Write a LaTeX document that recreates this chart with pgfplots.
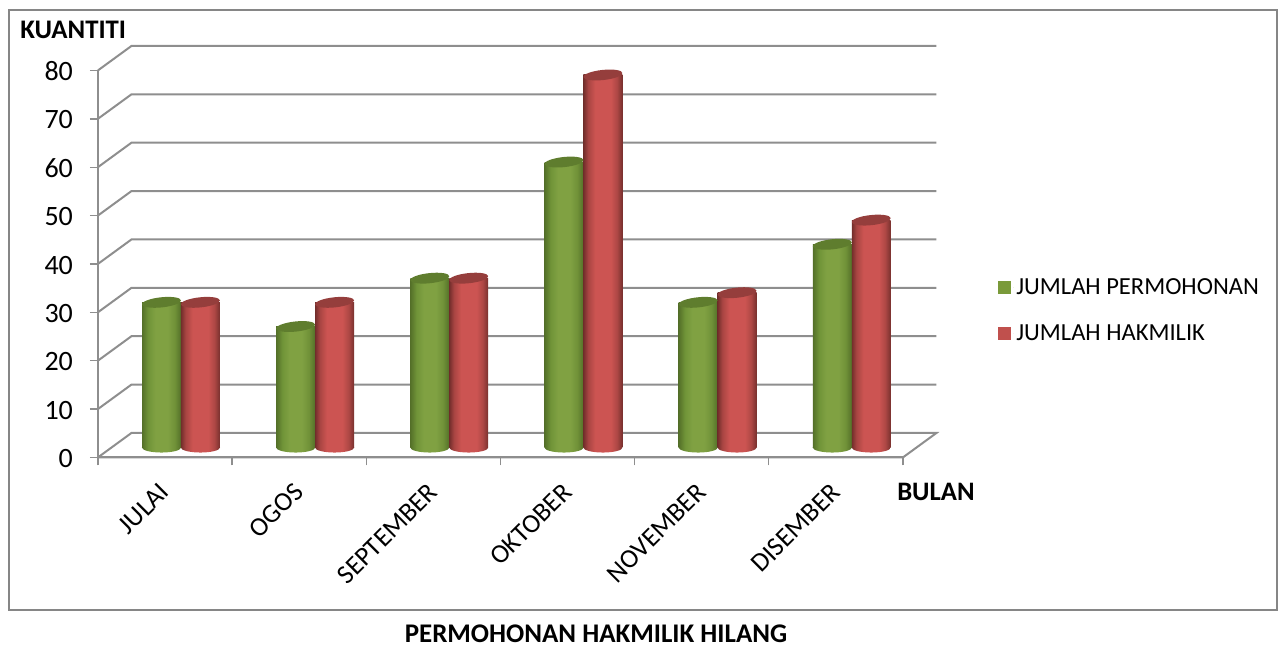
\documentclass[border=0pt]{standalone}
\usepackage{fontspec}
\setmainfont{Carlito}
\usepackage{pgfplots}
\usepackage{pgfplotstable}
\pgfplotsset{compat=1.18}
\definecolor{gridgray}{HTML}{8E8E8E}
\definecolor{framegray}{HTML}{868686}
\definecolor{capgreen}{HTML}{5F7D2E}
\definecolor{capred}{HTML}{953E3C}
\definecolor{leggreen}{HTML}{7A9A3A}
\definecolor{legred}{HTML}{C0504D}
\pgfdeclarehorizontalshading{greencyl}{100bp}{
 rgb(0bp)=(0.30,0.40,0.14);
 rgb(25bp)=(0.33,0.44,0.16);
 rgb(33bp)=(0.44,0.58,0.22);
 rgb(42bp)=(0.50,0.63,0.26);
 rgb(58bp)=(0.50,0.63,0.26);
 rgb(67bp)=(0.44,0.57,0.22);
 rgb(75bp)=(0.33,0.44,0.16);
 rgb(100bp)=(0.30,0.40,0.14)}
\pgfdeclarehorizontalshading{redcyl}{100bp}{
 rgb(0bp)=(0.42,0.17,0.16);
 rgb(25bp)=(0.45,0.18,0.17);
 rgb(31bp)=(0.66,0.27,0.26);
 rgb(40bp)=(0.80,0.33,0.32);
 rgb(60bp)=(0.80,0.33,0.32);
 rgb(68bp)=(0.68,0.28,0.27);
 rgb(75bp)=(0.47,0.19,0.18);
 rgb(100bp)=(0.42,0.17,0.16)}
\pgfdeclareplotmark{captopg}{\pgfsetfillcolor{capgreen}\pgftransformrotate{6}\pgfpathellipse{\pgfpointorigin}{\pgfqpoint{14.7pt}{0pt}}{\pgfqpoint{0pt}{3.8pt}}\pgfusepathqfill}
\pgfdeclareplotmark{captopr}{\pgfsetfillcolor{capred}\pgftransformrotate{6}\pgfpathellipse{\pgfpointorigin}{\pgfqpoint{14.7pt}{0pt}}{\pgfqpoint{0pt}{3.8pt}}\pgfusepathqfill}
\pgfdeclareplotmark{capbotg}{\path[draw=none,shade,shading=greencyl,rotate=6] (0pt,0pt) ellipse (14.7pt and 3.8pt);}
\pgfdeclareplotmark{capbotr}{\path[draw=none,shade,shading=redcyl,rotate=6] (0pt,0pt) ellipse (14.7pt and 3.8pt);}
\pgfplotstableread{
x gx rx green red zero
0 -0.145 0.145 30 30 0
1 0.855 1.145 25 30 0
2 1.855 2.145 35 35 0
3 2.855 3.145 59 77 0
4 3.855 4.145 30 32 0
5 4.855 5.145 42 47 0
}\bardata
\newcommand{\onebar}[4]{\addplot[forget plot,ybar,bar width=29.2pt,bar shift=#1,draw=none,shade,shading=#2] coordinates {(#3,#4)};}
\begin{document}
\begin{tikzpicture}
\path (0pt,0pt) rectangle (963pt,-483.75pt);
\begin{scope}[x=0.75pt,y=-0.75pt]
\draw[framegray,line width=1.4pt] (9,10) rectangle (1277,610);
\end{scope}
\begin{axis}[
 at={(73.4pt,-343.1pt)},anchor=south west,scale only axis,
 width=603.75pt,height=290.25pt,
 xmin=-0.5,xmax=5.5,ymin=0,ymax=80,clip=false,
 axis x line=bottom,axis y line=left,
 axis line style={-,gridgray,line width=1.5pt},
 tick style={gridgray,line width=1pt},
 tick align=outside,major tick length=6pt,
 ytick={0,10,...,80},
 xtick={-0.5,0.5,...,5.5},xticklabels={},
 extra x ticks={0,1,2,3,4,5},
 extra x tick labels={JULAI,OGOS,SEPTEMBER,OKTOBER,NOVEMBER,DISEMBER},
 extra x tick style={major tick length=0pt,
   tick label style={rotate=45,anchor=north east,font=\fontsize{20pt}{24pt}\selectfont,inner sep=0pt,xshift=-16pt,yshift=-9.2pt}},
 yticklabel style={font=\fontsize{21pt}{24pt}\selectfont,/pgf/number format/assume math mode=true,inner sep=0pt,xshift=-12.5pt,yshift=-0.8pt},
]
\addplot[forget plot,gridgray,line width=1.5pt] coordinates {(-0.5,0)(5.5,0)(5.75,5.06)(-0.25,5.06)(-0.5,0)};
\addplot[forget plot,gridgray,line width=1.5pt] coordinates {(-0.5,10)(-0.25,15.06)(5.75,15.06)};
\addplot[forget plot,gridgray,line width=1.5pt] coordinates {(-0.5,20)(-0.25,25.06)(5.75,25.06)};
\addplot[forget plot,gridgray,line width=1.5pt] coordinates {(-0.5,30)(-0.25,35.06)(5.75,35.06)};
\addplot[forget plot,gridgray,line width=1.5pt] coordinates {(-0.5,40)(-0.25,45.06)(5.75,45.06)};
\addplot[forget plot,gridgray,line width=1.5pt] coordinates {(-0.5,50)(-0.25,55.06)(5.75,55.06)};
\addplot[forget plot,gridgray,line width=1.5pt] coordinates {(-0.5,60)(-0.25,65.06)(5.75,65.06)};
\addplot[forget plot,gridgray,line width=1.5pt] coordinates {(-0.5,70)(-0.25,75.06)(5.75,75.06)};
\addplot[forget plot,gridgray,line width=1.5pt] coordinates {(-0.5,80)(-0.25,85.06)(5.75,85.06)};
\end{axis}
\begin{axis}[
 at={(85.4pt,-335.6pt)},anchor=south west,scale only axis,
 width=603.75pt,height=290.25pt,
 xmin=-0.5,xmax=5.5,ymin=0,ymax=80,clip=false,
 hide axis,
 legend style={draw=none,fill=none,at={(rel axis cs:1,0.5)},anchor=west,xshift=59.35pt,yshift=-42.5pt,
   font=\fontsize{18.4pt}{20pt}\selectfont,row sep=17pt,inner sep=0pt},
 legend cell align=left,
 legend image code/.code={\path[draw=none,#1] (0pt,-4.8pt) rectangle (9.8pt,4.8pt);\path[draw=none] (11.5pt,0pt) circle (0.1pt);},
]
\addlegendimage{fill=leggreen}
\addlegendentry{JUMLAH PERMOHONAN}
\addlegendimage{fill=legred}
\addlegendentry{JUMLAH HAKMILIK}
\addplot[forget plot,only marks,mark=capbotg] table[x=gx,y=zero] {\bardata};
\onebar{-14.6pt}{greencyl}{0}{30}
\onebar{-14.6pt}{greencyl}{1}{25}
\onebar{-14.6pt}{greencyl}{2}{35}
\onebar{-14.6pt}{greencyl}{3}{59}
\onebar{-14.6pt}{greencyl}{4}{30}
\onebar{-14.6pt}{greencyl}{5}{42}
\addplot[forget plot,only marks,mark=captopg] table[x=gx,y=green] {\bardata};
\addplot[forget plot,only marks,mark=capbotr] table[x=rx,y=zero] {\bardata};
\onebar{14.6pt}{redcyl}{0}{30}
\onebar{14.6pt}{redcyl}{1}{30}
\onebar{14.6pt}{redcyl}{2}{35}
\onebar{14.6pt}{redcyl}{3}{77}
\onebar{14.6pt}{redcyl}{4}{32}
\onebar{14.6pt}{redcyl}{5}{47}
\addplot[forget plot,only marks,mark=captopr] table[x=rx,y=red] {\bardata};
\end{axis}
\begin{scope}[x=0.75pt,y=-0.75pt]
\node[font=\bfseries\fontsize{20.1pt}{22pt}\selectfont,anchor=west,inner sep=0pt] at (20,30) {KUANTITI};
\node[font=\bfseries\fontsize{20pt}{22pt}\selectfont,anchor=west,inner sep=0pt] at (897,492) {BULAN};
\node[font=\bfseries\fontsize{20.2pt}{22pt}\selectfont,anchor=center,inner sep=0pt] at (596,634) {PERMOHONAN HAKMILIK HILANG};
\end{scope}
\end{tikzpicture}
\end{document}
